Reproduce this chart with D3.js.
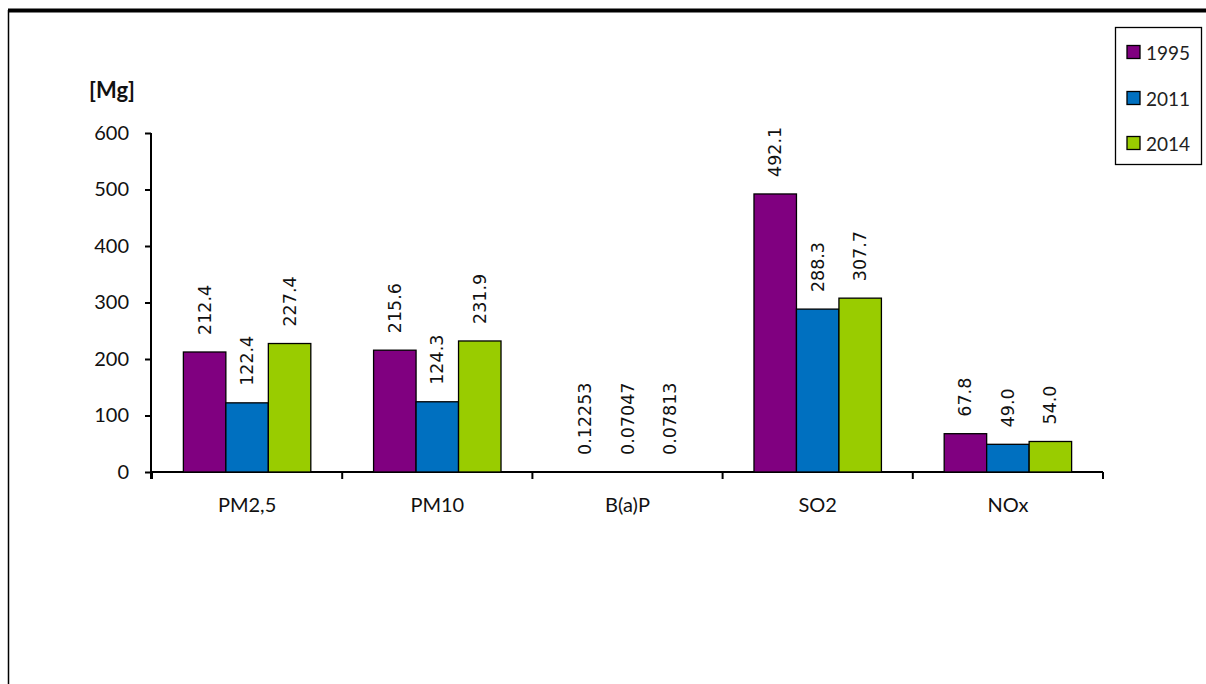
<!DOCTYPE html>
<html><head><meta charset="utf-8">
<script src="https://cdn.jsdelivr.net/npm/d3@7"></script>
<style>body{margin:0;background:#fff}svg{display:block}</style>
</head><body>
<svg id="c" width="1206" height="684"></svg>
<script>
const categories = ["PM2,5", "PM10", "B(a)P", "SO2", "NOx"];
const seriesNames = ["1995", "2011", "2014"];
const values1995 = [212.4, 215.6, 0.12253, 492.1, 67.8];
const values2011 = [122.4, 124.3, 0.07047, 288.3, 49.0];
const values2014 = [227.4, 231.9, 0.07813, 307.7, 54.0];
const yTicks = [0, 100, 200, 300, 400, 500, 600];
const colors = ["#800080", "#0070C0", "#99CC00"];
const unitLabel = "[Mg]";

const allSeries = [values1995, values2011, values2014];
const svg = d3.select("#c");
const fontAxis = "Lato, 'Liberation Sans', sans-serif";
const fontLbl = "'DejaVu Sans', Verdana, sans-serif";

// frame
svg.append("line").attr("x1", 8).attr("x2", 1206).attr("y1", 10.5).attr("y2", 10.5).attr("stroke", "#000").attr("stroke-width", 4);
svg.append("line").attr("x1", 8.5).attr("x2", 8.5).attr("y1", 10).attr("y2", 684).attr("stroke", "#000").attr("stroke-width", 1.5);

const x0 = d3.scaleBand().domain(categories).range([152, 1103]).paddingInner(0.33).paddingOuter(0.165);
const x1 = d3.scaleBand().domain(seriesNames).range([0, x0.bandwidth()]);
const y = d3.scaleLinear().domain([0, 600]).range([472, 133]);

// y axis
const yAx = svg.append("g").attr("transform", "translate(151,0)")
  .call(d3.axisLeft(y).tickValues(yTicks).tickSize(6).tickPadding(16));
yAx.select(".domain").attr("stroke-width", 2).attr("d", "M0,133V479");
yAx.selectAll(".tick line").attr("stroke-width", 2);
yAx.selectAll("text").attr("font-family", fontAxis).attr("font-size", 20).attr("fill", "#111");

// x axis
const xEdges = d3.range(categories.length + 1).map(i => 152 + i * (1103 - 152) / categories.length);
svg.append("line").attr("x1", 151).attr("x2", 1103).attr("y1", 472).attr("y2", 472).attr("stroke", "#000").attr("stroke-width", 2);
svg.selectAll(".xt").data(xEdges).join("line").attr("class", "xt")
  .attr("x1", d => d).attr("x2", d => d).attr("y1", 472).attr("y2", 479).attr("stroke", "#000").attr("stroke-width", 2);
svg.selectAll(".xl").data(categories).join("text").attr("class", "xl")
  .attr("x", d => x0(d) + x0.bandwidth() / 2).attr("y", 512)
  .attr("text-anchor", "middle").attr("font-family", fontAxis).attr("font-size", 20).attr("fill", "#111")
  .text(d => d);

// unit label
svg.append("text").attr("x", 112).attr("y", 98).attr("text-anchor", "middle")
  .attr("font-family", fontAxis).attr("font-weight", "bold").attr("font-size", 22).attr("fill", "#111").text(unitLabel);

// bars
const fmt = v => v < 1 ? String(v) : v.toFixed(1);
categories.forEach((c, ci) => {
  seriesNames.forEach((s, si) => {
    const v = allSeries[si][ci];
    const bx = x0(c) + x1(s);
    const by = y(v);
    svg.append("rect").attr("x", bx).attr("y", by).attr("width", x1.bandwidth()).attr("height", Math.max(0, y(0) - by))
      .attr("fill", colors[si]).attr("stroke", "#000").attr("stroke-width", 1.3);
    const cx = bx + x1.bandwidth() / 2;
    const ly = by - 17;
    svg.append("text").attr("transform", `translate(${cx},${ly}) rotate(-90)`)
      .attr("dominant-baseline", "central").attr("text-anchor", "start")
      .attr("font-family", fontLbl).attr("font-size", 17.5).attr("fill", "#111").text(fmt(v));
  });
});

// legend
svg.append("rect").attr("x", 1115.5).attr("y", 27.5).attr("width", 86).attr("height", 137)
  .attr("fill", "#fff").attr("stroke", "#000").attr("stroke-width", 1.3);
const ly0 = [52, 98, 143];
seriesNames.forEach((s, i) => {
  svg.append("rect").attr("x", 1127).attr("y", ly0[i] - 6.5).attr("width", 13).attr("height", 13)
    .attr("fill", colors[i]).attr("stroke", "#000").attr("stroke-width", 1.3);
  svg.append("text").attr("x", 1146).attr("y", ly0[i]).attr("dominant-baseline", "central")
    .attr("font-family", fontAxis).attr("font-size", 19).attr("fill", "#222").text(s);
});
</script>
</body></html>
